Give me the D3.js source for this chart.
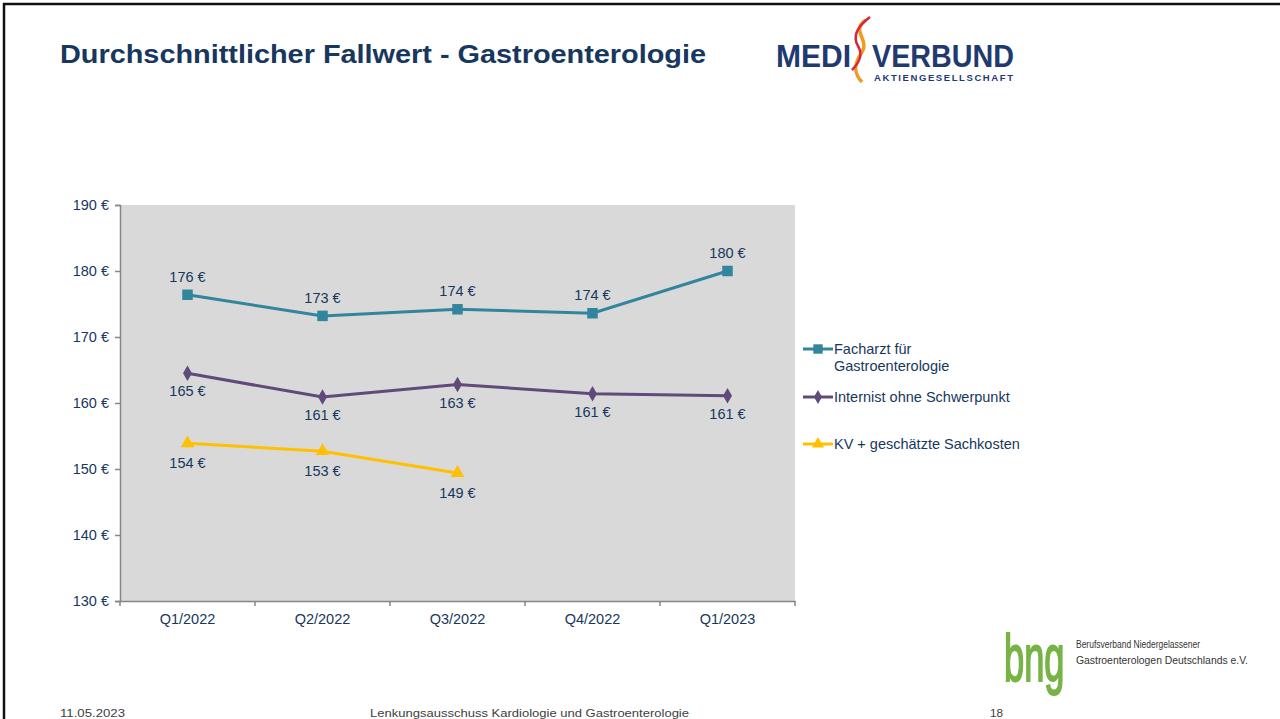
<!DOCTYPE html>
<meta charset="utf-8">
<head>
  <title>Durchschnittlicher Fallwert</title>
</head>

<style>
body {
  margin: 0;
  font-family: "Liberation Sans", Arial, sans-serif;
  background: #fff;
}
svg { display: block; }
</style>

<body>
  <div id="content"></div>

  <script src="https://cdnjs.cloudflare.com/ajax/libs/d3/7.8.5/d3.min.js"></script>

  <script>
// data
var quarters = ['Q1/2022', 'Q2/2022', 'Q3/2022', 'Q4/2022', 'Q1/2023'];
var facharzt = [176.4, 173.2, 174.2, 173.6, 180.0];
var internist = [164.5, 160.9, 162.8, 161.4, 161.1];
var kv = [153.9, 152.7, 149.4];
var yTicks = [130, 140, 150, 160, 170, 180, 190];
var seriesNames = [['Facharzt für', 'Gastroenterologie'], ['Internist ohne Schwerpunkt'], ['KV + geschätzte Sachkosten']];

var navy = '#17375e';

var svg = d3.select('#content').append('svg')
  .attr('width', 1280)
  .attr('height', 719);

// slide frame (top + left edges visible)
svg.append('line').attr('x1', 3).attr('x2', 1280).attr('y1', 4).attr('y2', 4)
  .attr('stroke', '#111').attr('stroke-width', 2.5);
svg.append('line').attr('x1', 4).attr('x2', 4).attr('y1', 3).attr('y2', 719)
  .attr('stroke', '#111').attr('stroke-width', 2.5);

// title (slide is stretched horizontally, so fit the width)
svg.append('text')
  .attr('x', 60).attr('y', 63)
  .attr('font-size', 25).attr('font-weight', 'bold')
  .attr('fill', navy)
  .attr('textLength', 646).attr('lengthAdjust', 'spacingAndGlyphs')
  .text('Durchschnittlicher Fallwert - Gastroenterologie');

// MEDIVERBUND logo
var logo = svg.append('g');
logo.append('text').attr('x', 776).attr('y', 67)
  .attr('font-size', 31).attr('font-weight', 'bold').attr('fill', '#1f3a70')
  .attr('textLength', 75).attr('lengthAdjust', 'spacingAndGlyphs')
  .text('MEDI');
logo.append('text').attr('x', 872).attr('y', 67)
  .attr('font-size', 31).attr('font-weight', 'bold').attr('fill', '#1f3a70')
  .attr('textLength', 142).attr('lengthAdjust', 'spacingAndGlyphs')
  .text('VERBUND');
logo.append('text').attr('x', 874).attr('y', 81)
  .attr('font-size', 9.5).attr('font-weight', 'bold').attr('fill', '#1f3a70')
  .attr('textLength', 139).attr('lengthAdjust', 'spacing')
  .text('AKTIENGESELLSCHAFT');
logo.append('path')
  .attr('d', 'M866,20 C850,30 870,40 862,52 C855,62 852,72 862,82')
  .attr('fill', 'none').attr('stroke', '#f39a1e').attr('stroke-width', 3.5);
logo.append('path')
  .attr('d', 'M870,17 C858,26 852,36 858,46 C864,56 858,64 852,70')
  .attr('fill', 'none').attr('stroke', '#d7263d').attr('stroke-width', 2.5);

// chart
var margin = {left: 120, top: 205, width: 675, height: 396};
var g = svg.append('g').attr('transform', 'translate(' + margin.left + ',' + margin.top + ')');

var x = d3.scaleBand().domain(quarters).range([0, margin.width]);
var y = d3.scaleLinear().domain([130, 190]).range([margin.height, 0]);

g.append('rect')
  .attr('width', margin.width).attr('height', margin.height)
  .attr('fill', '#d9d9d9');

var yAxis = g.append('g')
  .call(d3.axisLeft(y).tickValues(yTicks).tickSize(5).tickPadding(6).tickFormat(function(d) { return d + ' €'; }));
var xAxis = g.append('g')
  .attr('transform', 'translate(0,' + margin.height + ')')
  .call(d3.axisBottom(x).tickSize(0).tickPadding(13));

[yAxis, xAxis].forEach(function(a) {
  a.select('.domain').attr('stroke', '#868686').attr('stroke-width', 1.5);
  a.selectAll('.tick line').attr('stroke', '#868686').attr('stroke-width', 1.5);
  a.selectAll('text').attr('font-family', '"Liberation Sans", Arial, sans-serif')
    .attr('font-size', 14.5).attr('fill', navy);
});

// category boundary ticks on x axis
g.append('g').selectAll('line')
  .data(d3.range(quarters.length + 1))
  .join('line')
  .attr('x1', function(i) { return i * x.step(); })
  .attr('x2', function(i) { return i * x.step(); })
  .attr('y1', margin.height).attr('y2', margin.height + 5)
  .attr('stroke', '#868686').attr('stroke-width', 1.5);

var series = [
  {values: facharzt, color: '#31859c', marker: d3.symbolSquare, size: 110, dy: -13},
  {values: internist, color: '#604a7b', marker: d3.symbolDiamond, size: 70, dy: 23},
  {values: kv, color: '#ffc000', marker: d3.symbolTriangle, size: 80, dy: 25}
];

var line = d3.line()
  .x(function(d, i) { return x(quarters[i]) + x.bandwidth() / 2; })
  .y(function(d) { return y(d); });

series.forEach(function(s) {
  g.append('path')
    .attr('d', line(s.values))
    .attr('fill', 'none').attr('stroke', s.color).attr('stroke-width', 3);

  g.selectAll(null).data(s.values).join('path')
    .attr('d', d3.symbol().type(s.marker).size(s.size))
    .attr('transform', function(d, i) {
      return 'translate(' + (x(quarters[i]) + x.bandwidth() / 2) + ',' + y(d) + ')';
    })
    .attr('fill', s.color);

  g.selectAll(null).data(s.values).join('text')
    .attr('x', function(d, i) { return x(quarters[i]) + x.bandwidth() / 2; })
    .attr('y', function(d) { return y(d) + s.dy; })
    .attr('text-anchor', 'middle')
    .attr('font-size', 14.5).attr('fill', navy)
    .text(function(d) { return Math.round(d) + ' €'; });
});

// legend
var legendY = [349, 397, 444];
var legend = svg.append('g').attr('transform', 'translate(803,0)');
series.forEach(function(s, i) {
  var row = legend.append('g').attr('transform', 'translate(0,' + legendY[i] + ')');
  row.append('line').attr('x1', 0).attr('x2', 30)
    .attr('stroke', s.color).attr('stroke-width', 3);
  row.append('path')
    .attr('d', d3.symbol().type(s.marker).size(s.size * 0.8))
    .attr('transform', 'translate(15,0)')
    .attr('fill', s.color);
  row.selectAll('text').data(seriesNames[i]).join('text')
    .attr('x', 31)
    .attr('y', function(d, j) { return 5 + j * 17; })
    .attr('font-size', 14.5).attr('fill', navy)
    .text(function(d) { return d; });
});

// bng logo
var bng = svg.append('g');
bng.append('text')
  .attr('transform', 'translate(1004,681) scale(0.55,1)')
  .attr('font-size', 66).attr('fill', '#77b345')
  .attr('stroke', '#77b345').attr('stroke-width', 2)
  .text('bng');
bng.append('text').attr('x', 1076).attr('y', 648)
  .attr('font-size', 10.5).attr('fill', '#333')
  .attr('textLength', 124).attr('lengthAdjust', 'spacingAndGlyphs')
  .text('Berufsverband Niedergelassener');
bng.append('text').attr('x', 1076).attr('y', 664)
  .attr('font-size', 10.5).attr('fill', '#333')
  .attr('textLength', 172).attr('lengthAdjust', 'spacingAndGlyphs')
  .text('Gastroenterologen Deutschlands e.V.');

// footer
var footer = [
  {text: '11.05.2023', x: 60, w: 65},
  {text: 'Lenkungsausschuss Kardiologie und Gastroenterologie', x: 370, w: 319},
  {text: '18', x: 990, w: 13}
];
svg.selectAll('.foot').data(footer).join('text')
  .attr('class', 'foot')
  .attr('x', function(d) { return d.x; })
  .attr('y', 717)
  .attr('font-size', 11.5).attr('fill', '#404040')
  .attr('textLength', function(d) { return d.w; })
  .attr('lengthAdjust', 'spacingAndGlyphs')
  .text(function(d) { return d.text; });
  </script>
</body>
</html>
